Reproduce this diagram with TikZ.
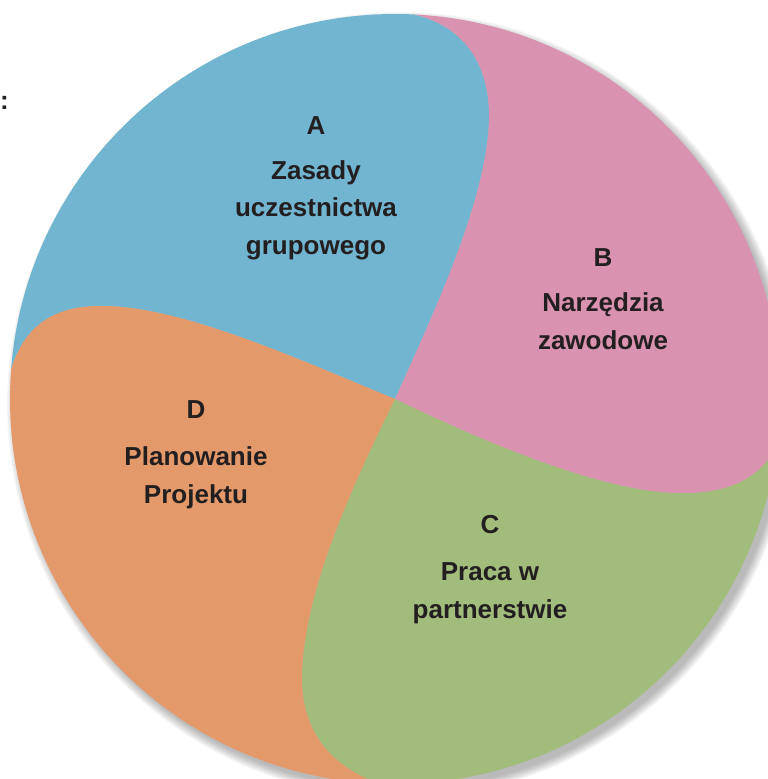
\documentclass[tikz,border=0pt]{standalone}
\usepackage{fontspec}
\setmainfont{Liberation Sans}
\usepackage{xcolor}
\usepackage{tikz}

\definecolor{segA}{RGB}{114,181,209}
\definecolor{segB}{RGB}{217,146,175}
\definecolor{segC}{RGB}{162,188,124}
\definecolor{segD}{RGB}{227,153,106}
\definecolor{txt}{RGB}{35,31,32}

\begin{document}
\begin{tikzpicture}[x=1pt,y=-1pt,
    lbl/.style={text=txt,font=\bfseries\fontsize{26}{37.5}\selectfont,align=center,inner sep=0pt}]
  \useasboundingbox (0,0) rectangle (768,779);
  \coordinate (O) at (395,399);
  % soft shadow
  \foreach \r in {1,...,10} {
    \fill[black,opacity=0.03] (400,405) circle [radius={(383+\r)*1pt}];
  }
  \begin{scope}
    \clip (O) circle [radius=385pt];
    \fill[segA] (O) .. controls (440,300) and (490,190) .. (489,113)
      .. controls (488,50) and (450,18) .. (400,12) -- (400,-30) -- (-30,-30) -- (-30,400) -- (5,400)
      .. controls (12,340) and (40,306) .. (100,306) .. controls (180,305) and (300,360) .. (O) -- cycle;
    \fill[segB] (O) .. controls (490,445) and (600,490) .. (673,493)
      .. controls (740,496) and (775,470) .. (785,420) -- (810,420) -- (810,-30) -- (400,-30) -- (400,12)
      .. controls (450,18) and (488,50) .. (489,113) .. controls (490,190) and (440,300) .. (O) -- cycle;
    \fill[segC] (O) .. controls (350,490) and (305,590) .. (302,673)
      .. controls (300,740) and (340,775) .. (400,790) -- (400,810) -- (810,810) -- (810,420) -- (785,420)
      .. controls (775,470) and (740,496) .. (673,493) .. controls (600,490) and (490,445) .. (O) -- cycle;
    \fill[segD] (O) .. controls (300,360) and (180,305) .. (100,306)
      .. controls (40,306) and (12,340) .. (5,400) -- (-30,400) -- (-30,810) -- (400,810) -- (400,790)
      .. controls (340,775) and (300,740) .. (302,673) .. controls (305,590) and (350,490) .. (O) -- cycle;
  \end{scope}

  \node[lbl] (colon) at (4.5,103) {:};

  \node[lbl] (A) at (316,126) {A};
  \node[lbl] (Atxt) at (316,210) {Zasady\\uczestnictwa\\grupowego};
  \node[lbl] (B) at (603,258) {B};
  \node[lbl] (Btxt) at (603,321) {Narzędzia\\zawodowe};
  \node[lbl] (C) at (490,525) {C};
  \node[lbl] (Ctxt) at (490,593) {Praca w\\partnerstwie};
  \node[lbl] (D) at (196,410) {D};
  \node[lbl] (Dtxt) at (196,478) {Planowanie\\Projektu};
\end{tikzpicture}
\end{document}
